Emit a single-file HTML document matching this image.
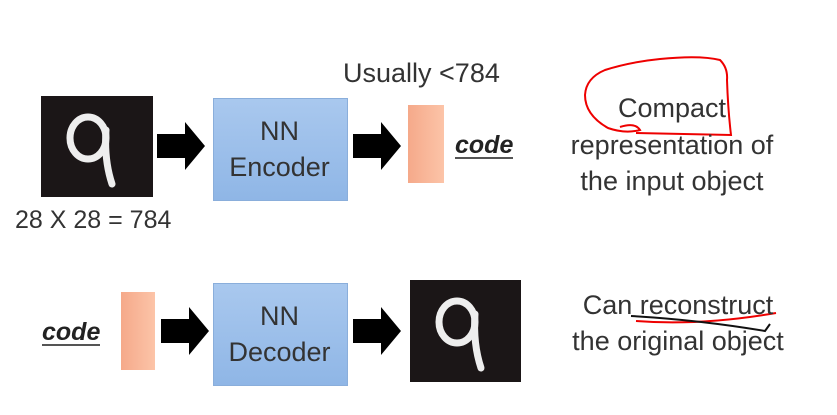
<!DOCTYPE html>
<html><head><style>
body{margin:0;width:837px;height:415px;background:#fff;overflow:hidden;position:relative;font-family:"Liberation Sans",sans-serif;color:#333}
.t{position:absolute;white-space:nowrap;font-size:27px;line-height:30px}
.box{position:absolute;background:linear-gradient(#a9c8ee,#8fb6e6);border:1px solid #8aaedb}
.bar{position:absolute;background:linear-gradient(90deg,#f5a98a,#fcc4a8);}
</style></head><body>
<svg width="837" height="415" style="position:absolute;left:0;top:0">
<defs><g id="arr"><polygon points="0,-12 28,-12 28,-24 48,0 28,24 28,12 0,12" fill="#000"/></g></defs>
<use href="#arr" x="157" y="146"/>
<use href="#arr" x="353" y="146"/>
<use href="#arr" x="161" y="331"/>
<use href="#arr" x="353" y="331"/>
<rect x="41" y="96" width="112" height="101" fill="#1b1617"/>
<rect x="410" y="280" width="111" height="102" fill="#1b1617"/>
<g fill="none" stroke="#eee" stroke-width="7" stroke-linecap="round">
<ellipse cx="88" cy="138" rx="18" ry="21"/><path d="M106 130 Q104 160 112 184"/>
<ellipse cx="457" cy="322" rx="18" ry="21"/><path d="M475 314 Q473 344 481 368"/>
</g>
<path d="M455 158 H513" stroke="#555" stroke-width="2"/>
<path d="M42 345 H100" stroke="#555" stroke-width="2"/>
<circle cx="311" cy="129" r="5" fill="#f33"/><circle cx="311" cy="129" r="2" fill="#fdd"/>
<path d="M620 127 Q635 122 640 130 Q625 134 608 128 Q585 115 585 95 Q586 78 605 70 Q630 62 660 59 Q700 55 720 60 Q728 68 727 80 Q728 110 731 135 L636 133" fill="none" stroke="#e00" stroke-width="2"/>
<path d="M636 321 Q700 326 776 313" fill="none" stroke="#e00" stroke-width="2"/>
<path d="M631 316 Q700 320 765 331 L770 324" fill="none" stroke="#111" stroke-width="2"/>
</svg>
<div class="box" style="left:213px;top:98px;width:133px;height:101px"></div>
<div class="box" style="left:213px;top:283px;width:133px;height:101px"></div>
<div class="bar" style="left:408px;top:105px;width:36px;height:78px"></div>
<div class="bar" style="left:121px;top:292px;width:34px;height:78px"></div>
<div class="t" style="left:213px;top:116px;width:133px;text-align:center">NN</div>
<div class="t" style="left:213px;top:152px;width:133px;text-align:center">Encoder</div>
<div class="t" style="left:213px;top:301px;width:133px;text-align:center">NN</div>
<div class="t" style="left:213px;top:337px;width:133px;text-align:center">Decoder</div>
<div class="t" style="left:343px;top:58px">Usually &lt;784</div>
<div class="t" style="left:15px;top:205px;font-size:25px">28 X 28 = 784</div>
<div class="t" style="left:455px;top:130px;font-style:italic;font-weight:bold;color:#222;font-size:25px">code</div>
<div class="t" style="left:42px;top:317px;font-style:italic;font-weight:bold;color:#222;font-size:25px">code</div>
<div class="t" style="left:540px;top:93px;width:264px;text-align:center">Compact</div>
<div class="t" style="left:540px;top:130px;width:264px;text-align:center">representation of</div>
<div class="t" style="left:540px;top:166px;width:264px;text-align:center">the input object</div>
<div class="t" style="left:540px;top:290px;width:276px;text-align:center">Can reconstruct</div>
<div class="t" style="left:540px;top:326px;width:276px;text-align:center">the original object</div>
</body></html>
